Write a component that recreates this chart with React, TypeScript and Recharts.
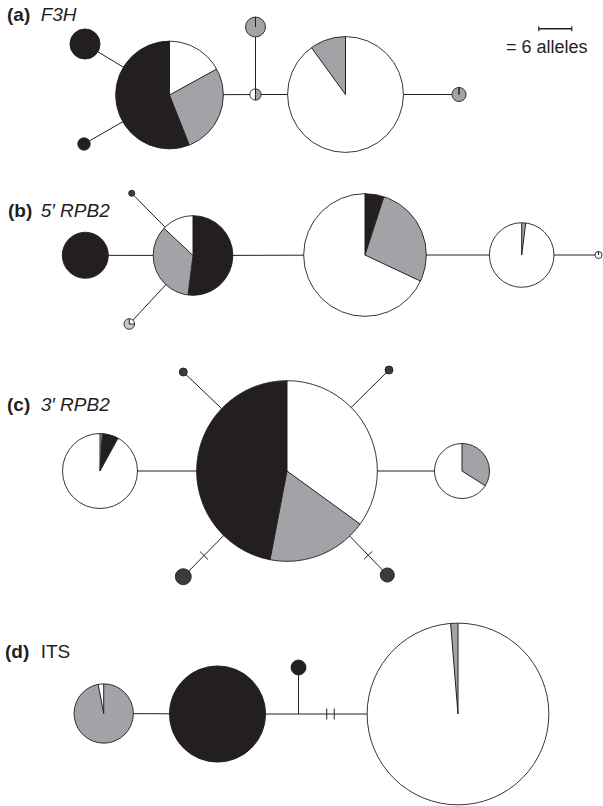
import React from "react";
import { ScatterChart, Scatter, XAxis, YAxis, ZAxis } from "recharts";

const W = 603;
const H = 806;

// haplotypes: layout position and allele count
const nodes = [
  { id: "a1", x: 85, y: 44, n: 5 },
  { id: "a2", x: 84, y: 144, n: 0.85 },
  { id: "a3", x: 169.5, y: 95, n: 64 },
  { id: "a4", x: 255.5, y: 94.5, n: 0.7 },
  { id: "a5", x: 255.5, y: 27, n: 2.2 },
  { id: "a6", x: 345.5, y: 94.5, n: 74 },
  { id: "a7", x: 459, y: 94.5, n: 1.1 },
  { id: "b1", x: 85.3, y: 255.3, n: 11.7 },
  { id: "b2", x: 131.7, y: 193.3, n: 0.2 },
  { id: "b3", x: 129.3, y: 324, n: 0.62 },
  { id: "b4", x: 193, y: 255.5, n: 35 },
  { id: "b5", x: 365, y: 255, n: 83 },
  { id: "b6", x: 521.7, y: 255, n: 23 },
  { id: "b7", x: 598.5, y: 255, n: 0.27 },
  { id: "c1", x: 100, y: 471, n: 31 },
  { id: "c2", x: 287, y: 471, n: 180 },
  { id: "c3", x: 462, y: 471, n: 16.7 },
  { id: "c4", x: 183.3, y: 372, n: 0.35 },
  { id: "c5", x: 389, y: 370, n: 0.35 },
  { id: "c6", x: 183.3, y: 576.7, n: 1.4 },
  { id: "c7", x: 387.3, y: 575, n: 1.1 },
  { id: "d1", x: 103.7, y: 713.5, n: 19.4 },
  { id: "d2", x: 217.5, y: 714, n: 51 },
  { id: "d3", x: 298.5, y: 667.5, n: 1.24 },
  { id: "d4", x: 298.5, y: 714, n: 0 },
  { id: "d5", x: 458, y: 714, n: 182 },
];

// share of each group (%), clockwise from 12 o'clock
// K = black, G = grey, L = light grey, W = white, D = dark grey
const composition: Record<string, [string, number][]> = {
  a1: [["K", 100]],
  a2: [["K", 100]],
  a3: [["W", 17], ["G", 27], ["K", 56]],
  a4: [["G", 50], ["W", 50]],
  a5: [["G", 100], ["W", 0]],
  a6: [["W", 90], ["G", 10]],
  a7: [["G", 100], ["W", 0]],
  b1: [["K", 100]],
  b2: [["D", 100]],
  b3: [["W", 25], ["L", 75]],
  b4: [["K", 52], ["G", 35], ["W", 13]],
  b5: [["K", 5], ["G", 27], ["W", 68]],
  b6: [["G", 2], ["W", 98]],
  b7: [["W", 100], ["G", 0]],
  c1: [["G", 1], ["K", 7], ["W", 92]],
  c2: [["W", 35], ["G", 18], ["K", 47]],
  c3: [["G", 34], ["W", 66]],
  c4: [["D", 100]],
  c5: [["D", 100]],
  c6: [["D", 100]],
  c7: [["D", 100]],
  d1: [["G", 97], ["W", 3]],
  d2: [["K", 100]],
  d3: [["K", 100]],
  d4: [],
  d5: [["W", 98.7], ["G", 1.3]],
};

const edges: [string, string][] = [
  ["a1", "a3"], ["a2", "a3"], ["a3", "a4"], ["a4", "a5"], ["a4", "a6"], ["a6", "a7"],
  ["b1", "b4"], ["b2", "b4"], ["b3", "b4"], ["b4", "b5"], ["b5", "b6"], ["b6", "b7"],
  ["c1", "c2"], ["c2", "c3"], ["c4", "c2"], ["c5", "c2"], ["c6", "c2"], ["c7", "c2"],
  ["d1", "d2"], ["d2", "d4"], ["d3", "d4"], ["d4", "d5"],
];

// mutation steps drawn as cross bars, t = position along the edge
const mutations = [
  { from: "c6", to: "c2", t: 0.2 },
  { from: "c7", to: "c2", t: 0.19 },
  { from: "d4", to: "d5", t: 0.177 },
  { from: "d4", to: "d5", t: 0.224 },
];

const panels = [
  { tag: "(a)", gene: "F3H", italic: true, x: 7, y: 21 },
  { tag: "(b)", gene: "5\u2032 RPB2", italic: true, x: 8, y: 217 },
  { tag: "(c)", gene: "3\u2032 RPB2", italic: true, x: 7, y: 411 },
  { tag: "(d)", gene: "ITS", italic: false, x: 5, y: 658 },
];
const geneX = 40.7;

const scaleBar = [{ x: 555.3, y: 28.7, n: 6, text: "= 6 alleles" }];

const FILL: Record<string, string> = {
  K: "#231f20",
  G: "#a2a3a6",
  L: "#c8c9cb",
  W: "#ffffff",
  D: "#3b3b3d",
};
const INK = "#231f20";
const FONT = "'Liberation Sans', Arial, Helvetica, sans-serif";

const byId: Record<string, { x: number; y: number }> = {};
nodes.forEach((d) => (byId[d.id] = d));

const edgeData = edges.map(([a, b]) => [
  { x: byId[a].x, y: byId[a].y },
  { x: byId[b].x, y: byId[b].y },
]);

const markData = mutations.map((m) => {
  const a = byId[m.from];
  const b = byId[m.to];
  return {
    x: a.x + (b.x - a.x) * m.t,
    y: a.y + (b.y - a.y) * m.t,
    ang: Math.atan2(b.y - a.y, b.x - a.x),
  };
});

function radiusOf(p: any) {
  if (typeof p.width === "number" && p.width > 0) return p.width / 2;
  return Math.sqrt(Math.max(p.size || 0, 0) / Math.PI);
}

function polar(cx: number, cy: number, r: number, deg: number) {
  const a = ((deg - 90) * Math.PI) / 180;
  return [cx + r * Math.cos(a), cy + r * Math.sin(a)];
}

const Blank = () => <g />;

const PieNode = (props: any) => {
  const { cx, cy, payload } = props;
  const r = radiusOf(props);
  const parts = composition[payload.id] || [];
  if (!parts.length || !(r > 0)) return <g />;
  const total = parts.reduce((s, p) => s + p[1], 0);
  const fills: React.ReactNode[] = [];
  const bounds: number[] = [];
  let start = 0;
  parts.forEach(([k, v], i) => {
    const sweep = (v / total) * 360;
    bounds.push(start);
    if (sweep >= 359.99) {
      fills.push(<circle key={i} cx={cx} cy={cy} r={r} fill={FILL[k]} />);
    } else if (sweep > 0) {
      const [x0, y0] = polar(cx, cy, r, start);
      const [x1, y1] = polar(cx, cy, r, start + sweep);
      const large = sweep > 180 ? 1 : 0;
      fills.push(
        <path
          key={i}
          d={`M${cx},${cy}L${x0},${y0}A${r},${r} 0 ${large} 1 ${x1},${y1}Z`}
          fill={FILL[k]}
        />
      );
    }
    start += sweep;
  });
  return (
    <g>
      {fills}
      {parts.length > 1 &&
        bounds.map((b, i) => {
          const [x, y] = polar(cx, cy, r, b);
          return <line key={"b" + i} x1={cx} y1={cy} x2={x} y2={y} stroke={INK} strokeWidth={1} />;
        })}
      <circle cx={cx} cy={cy} r={r} fill="none" stroke={INK} strokeWidth={0.9} />
    </g>
  );
};

const MarkShape = (props: any) => {
  const { cx, cy, payload } = props;
  const p = payload.ang + Math.PI / 2;
  const h = 5.5;
  return (
    <line
      x1={cx - Math.cos(p) * h}
      y1={cy - Math.sin(p) * h}
      x2={cx + Math.cos(p) * h}
      y2={cy + Math.sin(p) * h}
      stroke={INK}
      strokeWidth={1}
    />
  );
};

const PanelLabel = (props: any) => {
  const { cx, cy, payload } = props;
  return (
    <g fontFamily={FONT} fontSize={19} fill={INK}>
      <text x={cx} y={cy} fontWeight="bold">
        {payload.tag}
      </text>
      <text x={geneX} y={cy} fontStyle={payload.italic ? "italic" : "normal"}>
        {payload.gene}
      </text>
    </g>
  );
};

const ScaleBarShape = (props: any) => {
  const { cx, cy, payload } = props;
  const half = radiusOf(props);
  return (
    <g>
      <line x1={cx - half} y1={cy} x2={cx + half} y2={cy} stroke={INK} strokeWidth={1.6} />
      <line x1={cx - half} y1={cy - 2.5} x2={cx - half} y2={cy + 2.5} stroke={INK} strokeWidth={1.2} />
      <line x1={cx + half} y1={cy - 2.5} x2={cx + half} y2={cy + 2.5} stroke={INK} strokeWidth={1.2} />
      <text x={cx - 49.3} y={cy + 24.5} fontFamily={FONT} fontSize={18} fill={INK}>
        {payload.text}
      </text>
    </g>
  );
};

export default function App() {
  return (
    <div style={{ position: "absolute", left: 0, top: 0, width: W, height: H, background: "#fff" }}>
      <ScatterChart width={W} height={H} margin={{ top: 0, right: 0, bottom: 0, left: 0 }}>
        <XAxis type="number" dataKey="x" domain={[0, W]} hide allowDataOverflow />
        <YAxis type="number" dataKey="y" domain={[0, H]} reversed hide allowDataOverflow />
        <ZAxis type="number" dataKey="n" domain={[0, 200]} range={[0, 28500]} />
        {edgeData.map((d, i) => (
          <Scatter
            key={"e" + i}
            data={d}
            line={{ stroke: INK, strokeWidth: 1 }}
            shape={Blank}
            isAnimationActive={false}
          />
        ))}
        <Scatter data={markData} shape={MarkShape} isAnimationActive={false} />
        <Scatter data={nodes} shape={PieNode} isAnimationActive={false} />
        <Scatter data={panels} shape={PanelLabel} isAnimationActive={false} />
        <Scatter data={scaleBar} shape={ScaleBarShape} isAnimationActive={false} />
      </ScatterChart>
    </div>
  );
}
